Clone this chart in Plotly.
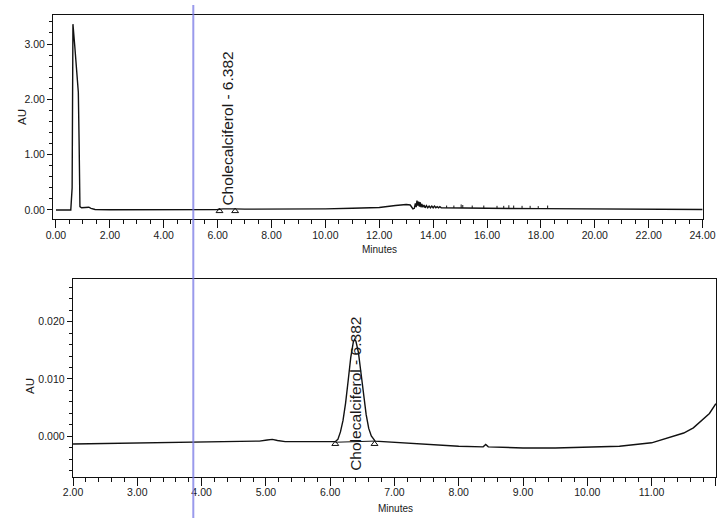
import plotly.graph_objects as go

# ---------------- data ----------------
# Top chromatogram: full run 0-24 min
top_t = [0.00, 0.55, 0.60, 0.63, 0.70, 0.78, 0.83, 0.86, 0.89, 0.95, 1.05, 1.15, 1.22, 1.30, 1.45,
         2.00, 3.00, 4.00, 5.00, 6.00, 6.20, 6.38, 6.60, 7.00, 8.00, 9.00, 10.00, 11.00, 12.00,
         12.60, 13.00, 13.15, 13.25, 13.30, 13.34, 13.37, 13.40, 13.43, 13.46, 13.49, 13.52, 13.55,
         13.58, 13.62, 13.66, 13.70, 13.75, 13.80, 13.85, 13.90, 13.95, 14.00, 14.05, 14.10, 14.15,
         14.20, 14.25, 14.30, 14.40, 15.00, 16.00, 18.00, 20.00, 22.00, 24.00]
top_au = [0.000, 0.000, 0.400, 3.360, 2.950, 2.450, 2.130, 1.200, 0.060, 0.040, 0.040, 0.050, 0.050, 0.030, 0.010,
          0.005, 0.005, 0.005, 0.010, 0.010, 0.020, 0.025, 0.020, 0.015, 0.015, 0.020, 0.020, 0.030, 0.045,
          0.080, 0.100, 0.090, 0.020, 0.030, 0.120, 0.050, 0.170, 0.080, 0.150, 0.060, 0.140, 0.050,
          0.110, 0.050, 0.090, 0.040, 0.080, 0.040, 0.070, 0.040, 0.070, 0.040, 0.070, 0.040, 0.060,
          0.040, 0.060, 0.040, 0.040, 0.035, 0.030, 0.025, 0.020, 0.015, 0.010]

# integration event tick marks on the top trace
mark_t = [14.50, 14.77, 15.04, 15.10, 15.45, 15.88, 16.37, 16.62, 16.81, 16.99, 17.30, 17.60, 17.90, 18.25]
mark_base = [0.038, 0.037, 0.036, 0.036, 0.035, 0.033, 0.031, 0.030, 0.030, 0.029, 0.028, 0.027, 0.026, 0.025]
mark_top = [0.080, 0.080, 0.100, 0.090, 0.080, 0.080, 0.075, 0.075, 0.085, 0.080, 0.075, 0.075, 0.070, 0.080]

top_tri_t = [6.07, 6.65]
top_tri_au = [-0.020, -0.020]

# Bottom chromatogram: zoom 2-12 min
bot_t = [2.00, 2.50, 3.00, 3.50, 4.00, 4.50, 4.90, 5.02, 5.10, 5.18, 5.30, 5.60, 6.00, 6.08, 6.12,
         6.16, 6.20, 6.24, 6.28, 6.32, 6.36, 6.38, 6.40, 6.44, 6.48, 6.52, 6.56, 6.60, 6.64, 6.70,
         7.00, 7.50, 8.00, 8.38, 8.42, 8.46, 9.00, 9.50, 10.00, 10.50, 11.00, 11.25, 11.50, 11.65,
         11.80, 11.90, 12.00]
bot_au = [-0.0013, -0.0012, -0.0011, -0.0010, -0.0009, -0.0009, -0.0008, -0.0006, -0.0005, -0.0007,
          -0.0009, -0.0009, -0.0010, -0.0009, -0.0005, 0.0008, 0.0028, 0.0058, 0.0097, 0.0137, 0.0164,
          0.0169, 0.0166, 0.0146, 0.0110, 0.0070, 0.0038, 0.0014, 0.0001, -0.0008, -0.0010, -0.0013,
          -0.0017, -0.0018, -0.0014, -0.0018, -0.0020, -0.0020, -0.0018, -0.0017, -0.0011, -0.0003,
          0.0006, 0.0015, 0.0029, 0.0040, 0.0057]

bot_tri_t = [6.08, 6.69]
bot_tri_au = [-0.0013, -0.0013]
bot_base_t = [6.08, 6.69]
bot_base_au = [-0.0010, -0.0008]

peak_label = "Cholecalciferol - 6.382"
peak_rt = 6.382

top_xticks = [0, 24, 2]
bot_xticks = [2, 12, 1]

FONT = "Liberation Sans, Arial, sans-serif"
LINE = "#111111"
W, H = 726, 518

fig = go.Figure()
fig.add_trace(go.Scatter(x=top_t, y=top_au, mode="lines", line=dict(color=LINE, width=1.4),
                         xaxis="x", yaxis="y", hoverinfo="skip"))
mx, my = [], []
for t, b, h in zip(mark_t, mark_base, mark_top):
    mx += [t, t, None]
    my += [b, h, None]
fig.add_trace(go.Scatter(x=mx, y=my, mode="lines", line=dict(color=LINE, width=1),
                         xaxis="x", yaxis="y", hoverinfo="skip"))
fig.add_trace(go.Scatter(x=top_tri_t, y=top_tri_au, mode="markers",
                         marker=dict(symbol="triangle-up-open", size=6, color=LINE, line=dict(width=1)),
                         xaxis="x", yaxis="y", hoverinfo="skip"))
fig.add_trace(go.Scatter(x=bot_t, y=bot_au, mode="lines", line=dict(color=LINE, width=1.4),
                         xaxis="x2", yaxis="y2", hoverinfo="skip"))
fig.add_trace(go.Scatter(x=bot_base_t, y=bot_base_au, mode="lines", line=dict(color=LINE, width=1),
                         xaxis="x2", yaxis="y2", hoverinfo="skip"))
fig.add_trace(go.Scatter(x=bot_tri_t, y=bot_tri_au, mode="markers",
                         marker=dict(symbol="triangle-up-open", size=6, color=LINE, line=dict(width=1)),
                         xaxis="x2", yaxis="y2", hoverinfo="skip"))


def xax(domain, rng, tick, minor_dt, anchor):
    return dict(domain=domain, range=rng, anchor=anchor, tickmode="linear", tick0=tick[0], dtick=tick[2],
                tickformat=".2f", ticks="outside", ticklen=8, tickwidth=1, tickcolor=LINE,
                showline=True, linecolor=LINE, linewidth=1, mirror=True, showgrid=False, zeroline=False,
                automargin=False, ticklabelstandoff=-2,
                tickfont=dict(family=FONT, size=10.5, color="#1a1a1a"),
                minor=dict(dtick=minor_dt, ticks="outside", ticklen=4, tickwidth=1, tickcolor=LINE, showgrid=False))


def yax(domain, rng, dt, fmt, minor_dt, anchor):
    return dict(domain=domain, range=rng, anchor=anchor, tickmode="linear", tick0=0, dtick=dt,
                tickformat=fmt, ticks="outside", ticklen=5, tickwidth=1, tickcolor=LINE,
                showline=True, linecolor=LINE, linewidth=1, mirror=True, showgrid=False, zeroline=False,
                automargin=False,
                tickfont=dict(family=FONT, size=10.5, color="#1a1a1a"),
                minor=dict(dtick=minor_dt, ticks="outside", ticklen=3, tickwidth=1, tickcolor=LINE, showgrid=False))


def ptext(text, px, py, size, angle=0):
    return dict(text=text, x=px / W, y=1 - py / H, xref="paper", yref="paper", textangle=angle,
                xanchor="center", yanchor="middle", showarrow=False,
                font=dict(family=FONT, size=size, color="#1a1a1a"))


fig.update_layout(
    width=W, height=H, autosize=False,
    margin=dict(l=0, r=0, t=0, b=0, pad=0, autoexpand=False),
    paper_bgcolor="white", plot_bgcolor="white",
    showlegend=False,
    xaxis=xax([53 / W, 702.7 / W], [-0.11, 24.005], top_xticks, 0.5, "y"),
    yaxis=yax([1 - 219 / H, 1 - 15 / H], [-0.163, 3.525], 1, ".2f", 0.2, "x"),
    xaxis2=xax([72.7 / W, 716 / W], [1.995, 12.002], bot_xticks, 0.2, "y2"),
    yaxis2=yax([1 - 476.5 / H, 1 - 278.5 / H], [-0.00696, 0.02748], 0.01, ".3f", 0.002, "x2"),
    annotations=[
        dict(text=peak_label, x=peak_rt, y=0.06, xref="x", yref="y", textangle=-90,
             xanchor="center", yanchor="bottom", showarrow=False, borderpad=0,
             font=dict(family=FONT, size=15.5, color="#1a1a1a")),
        dict(text=peak_label, x=peak_rt, y=-0.0062, xref="x2", yref="y2", textangle=-90,
             xanchor="center", yanchor="bottom", showarrow=False, borderpad=0,
             font=dict(family=FONT, size=15.5, color="#1a1a1a")),
        ptext("AU", 22, 117, 11.5, -90),
        ptext("AU", 30, 386, 11.5, -90),
        ptext("Minutes", 380, 249, 10),
        ptext("Minutes", 395, 508, 10),
    ],
    shapes=[
        dict(type="line", xref="paper", yref="paper", x0=193.3 / W, x1=193.3 / W, y0=0, y1=1 - 5 / H,
             line=dict(color="rgba(120,120,230,0.75)", width=2), layer="above"),
    ],
)

fig.write_html("out.html", config={"responsive": False})
